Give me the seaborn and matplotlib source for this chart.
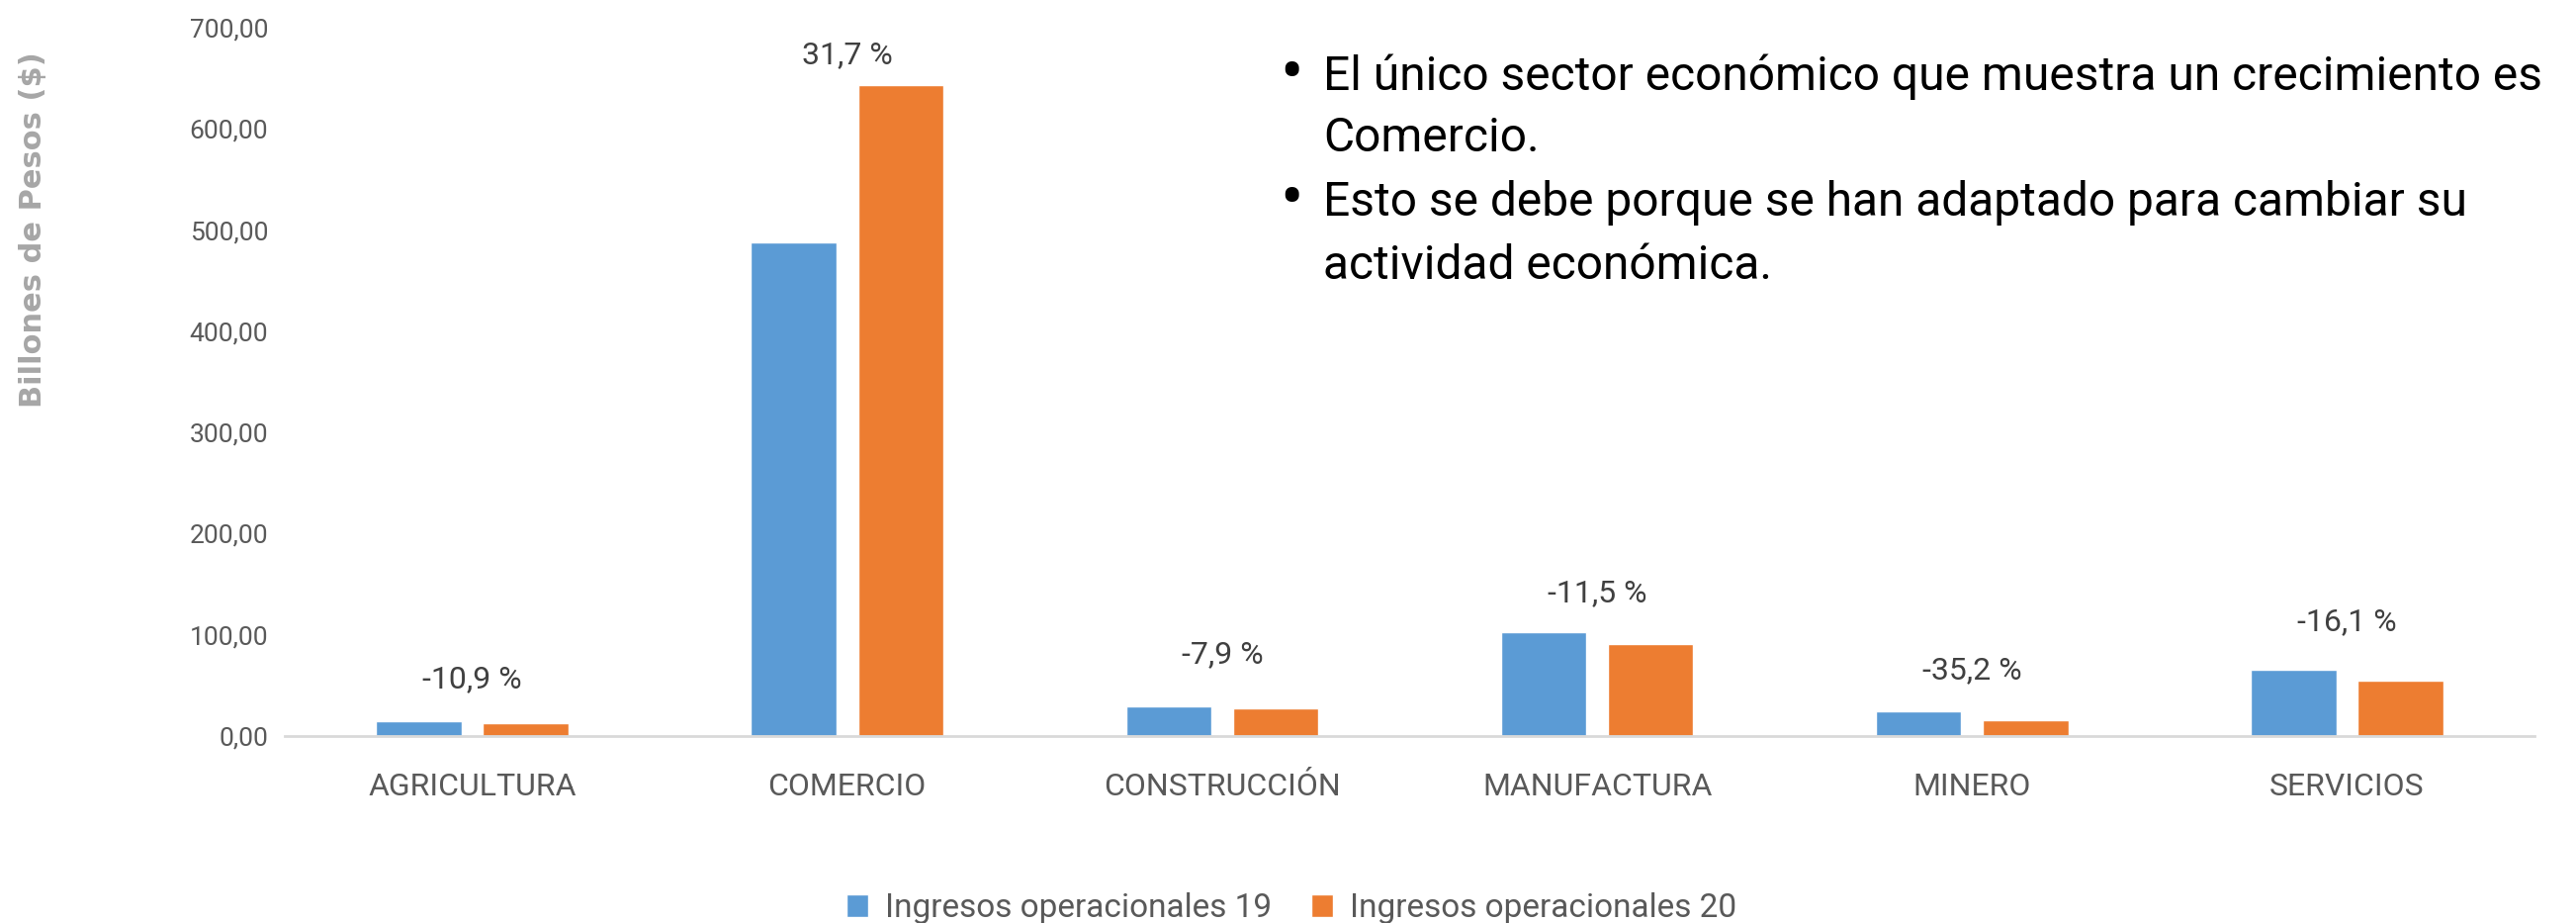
import matplotlib
matplotlib.use("Agg")
import matplotlib.pyplot as plt
import seaborn as sns
import pandas as pd
from matplotlib.ticker import FuncFormatter

sectores = ["AGRICULTURA", "COMERCIO", "CONSTRUCCIÓN", "MANUFACTURA", "MINERO", "SERVICIOS"]
ingresos_19 = [14.5, 488.0, 29.5, 102.5, 24.8, 65.5]
ingresos_20 = [12.9, 643.0, 27.2, 90.7, 16.1, 55.0]
variacion = ["-10,9 %", "31,7 %", "-7,9 %", "-11,5 %", "-35,2 %", "-16,1 %"]
series = ["Ingresos operacionales 19", "Ingresos operacionales 20"]
yticks = [0, 100, 200, 300, 400, 500, 600, 700]
notas = [
    ["El único sector económico que muestra un crecimiento es", "Comercio."],
    ["Esto se debe porque se han adaptado para cambiar su", "actividad económica."],
]
# label y positions (data units) for the percentage annotations
label_y = [56, 673, 81, 141, 65, 113]

BLUE = "#5B9BD5"
ORANGE = "#ED7D31"

sns.set_theme(style="white")
FONT = ["Roboto", "DejaVu Sans"]
plt.rcParams["font.family"] = FONT

df = pd.DataFrame({
    "sector": sectores * 2,
    "valor": ingresos_19 + ingresos_20,
    "serie": [series[0]] * len(sectores) + [series[1]] * len(sectores),
})

W, H = 2605, 933
fig = plt.figure(figsize=(W / 100, H / 100), dpi=100)
ax = fig.add_axes([288 / W, 1 - 744 / H, (2563 - 288) / W, (744 - 28) / H])

sns.barplot(data=df, x="sector", y="valor", hue="serie", palette=[BLUE, ORANGE],
            width=0.57, gap=0.2, ax=ax, errorbar=None, saturation=1)

ax.set_ylim(0, 700)
ax.set_xlim(-0.5, len(sectores) - 0.5)
ax.set_yticks(yticks)
ax.yaxis.set_major_formatter(FuncFormatter(lambda v, p: f"{v:.2f}".replace(".", ",")))
ax.tick_params(axis="y", labelsize=19, labelcolor="#595959", length=0, pad=12)
ax.tick_params(axis="x", labelsize=23, labelcolor="#595959", length=0, pad=27)
ax.set_xlabel("")
ax.set_ylabel("")
for s in ["top", "right", "left"]:
    ax.spines[s].set_visible(False)
ax.spines["bottom"].set_color("#D9D9D9")
ax.spines["bottom"].set_linewidth(2)

fig.text(34 / W, 1 - 232 / H, "Billones de Pesos ($)", rotation=90, ha="center", va="center",
         fontsize=22, fontweight="bold", color="#A6A6A6", family=["DejaVu Sans"])

for i, txt in enumerate(variacion):
    ax.text(i, label_y[i], txt, ha="center", va="center", fontsize=23, color="#404040")

sns.move_legend(ax, "center", bbox_to_anchor=((1306 - 288) / 2275, (744 - 918) / 716), ncol=2,
                frameon=False, title=None, fontsize=24, handlelength=0.66, handleheight=0.7,
                handletextpad=0.5, columnspacing=1.2)
for t in ax.get_legend().get_texts():
    t.set_color("#595959")

baselines = [[91, 153], [218, 282]]
for p, lines in enumerate(notas):
    fig.text(1294 / W, 1 - (baselines[p][0] + 4) / H, "•", ha="left", va="baseline",
             fontsize=50, color="black")
    for k, ln in enumerate(lines):
        fig.text(1338 / W, 1 - baselines[p][k] / H, ln, ha="left", va="baseline",
                 fontsize=34.5, color="black")

fig.savefig("out.png", dpi=100, facecolor="white")
